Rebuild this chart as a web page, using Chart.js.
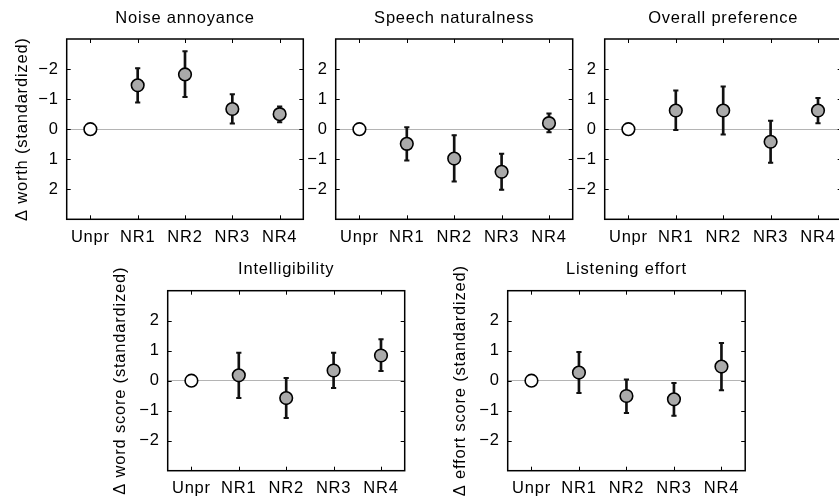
<!DOCTYPE html>
<html>
<head>
<meta charset="utf-8">
<script src="https://cdn.jsdelivr.net/npm/chart.js@4/dist/chart.umd.min.js"></script>
<style>
  html, body { margin: 0; padding: 0; background: #fff; width: 839px; height: 497px; overflow: hidden; position: relative; }
  canvas { position: absolute; }
</style>
</head>
<body>
<canvas id="c1"></canvas>
<canvas id="c2"></canvas>
<canvas id="c3"></canvas>
<canvas id="c4"></canvas>
<canvas id="c5"></canvas>
<script>
// ---------- data ----------
const categories = ['Unpr', 'NR1', 'NR2', 'NR3', 'NR4'];
const yTickValues = [-2, -1, 0, 1, 2];

const noiseMean = [0, -1.46, -1.82, -0.67, -0.50];
const noiseLow  = [null, -2.03, -2.59, -1.16, -0.75];
const noiseHigh = [null, -0.89, -1.07, -0.19, -0.23];

const speechMean = [0, -0.49, -0.98, -1.42, 0.20];
const speechLow  = [null, -1.04, -1.74, -2.02, -0.10];
const speechHigh = [null, 0.06, -0.20, -0.82, 0.52];

const prefMean = [0, 0.62, 0.62, -0.42, 0.62];
const prefLow  = [null, -0.03, -0.18, -1.12, 0.20];
const prefHigh = [null, 1.29, 1.42, 0.28, 1.04];

const intelMean = [0, 0.18, -0.58, 0.34, 0.84];
const intelLow  = [null, -0.58, -1.24, -0.24, 0.32];
const intelHigh = [null, 0.93, 0.09, 0.93, 1.38];

const effortMean = [0, 0.27, -0.51, -0.62, 0.47];
const effortLow  = [null, -0.41, -1.08, -1.17, -0.32];
const effortHigh = [null, 0.96, 0.04, -0.08, 1.26];

const markerFill = ['#ffffff', '#aaaaaa', '#aaaaaa', '#aaaaaa', '#aaaaaa'];

// ---------- styling ----------
const FONT = '"Liberation Sans", Arial, Helvetica, sans-serif';
const FS = 16.5;
Chart.defaults.color = '#000';
Chart.defaults.font.family = FONT;
Chart.defaults.font.size = FS;

const spacingPlugin = {
  id: 'spacing',
  beforeUpdate(chart) { chart.ctx.letterSpacing = '0.8px'; },
  beforeDraw(chart) { chart.ctx.letterSpacing = '0.8px'; }
};

const framePlugin = {
  id: 'frame',
  afterDraw(chart) {
    const ctx = chart.ctx;
    const { left, top, right, bottom } = chart.chartArea;
    const xs = chart.scales.x, ys = chart.scales.y;
    ctx.save();
    ctx.strokeStyle = '#000';
    ctx.lineWidth = 1;
    const tl = 4;
    ctx.beginPath();
    xs.ticks.forEach((t, i) => {
      const px = Math.round(xs.getPixelForTick(i)) + 0.5;
      ctx.moveTo(px, bottom); ctx.lineTo(px, bottom - tl);
      ctx.moveTo(px, top); ctx.lineTo(px, top + tl);
    });
    ys.ticks.forEach((t) => {
      const py = Math.round(ys.getPixelForValue(t.value)) + 0.5;
      ctx.moveTo(left, py); ctx.lineTo(left + tl, py);
      ctx.moveTo(right, py); ctx.lineTo(right - tl, py);
    });
    ctx.stroke();
    ctx.lineWidth = 1.5;
    ctx.strokeRect(left, top, right - left, bottom - top);
    ctx.restore();
  }
};

function fmt(v) { return v < 0 ? '\u2212' + Math.abs(v) : String(v); }

function makePanel(id, geo, title, yTitle, reverse, mean, low, high) {
  const cv = document.getElementById(id);
  cv.width = geo.w; cv.height = geo.h;
  cv.style.left = geo.left + 'px'; cv.style.top = geo.top + 'px';
  cv.style.width = geo.w + 'px'; cv.style.height = geo.h + 'px';
  const bars = low.map((l, i) => (l == null ? null : [l, high[i]]));
  new Chart(cv, {
    data: {
      labels: categories,
      datasets: [
        { type: 'line', data: mean, showLine: false, pointStyle: 'circle', pointRadius: 6.3,
          pointBorderWidth: 1.6, pointBorderColor: '#000', pointBackgroundColor: markerFill, order: 0 },
        { type: 'line', data: low, showLine: false, pointStyle: 'line', pointRadius: 2.6,
          pointBorderWidth: 2, pointBorderColor: '#111', order: 1 },
        { type: 'line', data: high, showLine: false, pointStyle: 'line', pointRadius: 2.6,
          pointBorderWidth: 2, pointBorderColor: '#111', order: 1 },
        { type: 'bar', data: bars, barThickness: 2, backgroundColor: '#111', borderWidth: 0, order: 2 }
      ]
    },
    options: {
      responsive: false,
      animation: false,
      events: [],
      devicePixelRatio: 1,
      layout: { autoPadding: false, padding: { left: 0, right: geo.padRight, top: 0, bottom: 0 } },
      plugins: {
        legend: { display: false },
        tooltip: { enabled: false },
        title: { display: true, text: title, color: '#000', fullSize: false,
                 font: { family: FONT, size: FS, weight: 'normal' },
                 padding: { top: geo.titleTop, bottom: geo.titleBottom } }
      },
      scales: {
        x: {
          type: 'category', offset: true,
          grid: { display: false, drawTicks: false }, border: { display: false },
          ticks: { padding: 8, color: '#000', maxRotation: 0, autoSkip: false,
                   font: { family: FONT, size: FS } },
          afterFit: (s) => { s.height = geo.xH; }
        },
        y: {
          type: 'linear', min: -3, max: 3, reverse: reverse,
          afterBuildTicks: (s) => { s.ticks = yTickValues.map(v => ({ value: v })); },
          grid: { drawTicks: false, lineWidth: 1,
                  color: (c) => (c.tick && c.tick.value === 0 ? '#b4b4b4' : 'rgba(0,0,0,0)') },
          border: { display: false },
          ticks: { padding: 8, color: '#000', font: { family: FONT, size: FS }, callback: (v) => fmt(v) },
          title: { display: !!yTitle, text: yTitle || '', color: '#000',
                   font: { family: FONT, size: FS }, padding: { top: geo.yTitlePad, bottom: 0 } },
          afterFit: (s) => { s.width = geo.yW; }
        }
      }
    },
    plugins: [spacingPlugin, framePlugin]
  });
}

const topRow = { top: 0, h: 250, xH: 30.7, titleTop: 8.6, titleBottom: 10.6, yW: 66.7, w: 310 };
const botRow = { top: 250, h: 247, xH: 26.3, titleTop: 9.8, titleBottom: 11.1, yW: 66.7, w: 310 };

makePanel('c1', Object.assign({}, topRow, { left: 0, padRight: 6.7, yTitlePad: 12.6 }),
  'Noise annoyance', '\u0394 worth (standardized)', true, noiseMean, noiseLow, noiseHigh);
makePanel('c2', Object.assign({}, topRow, { left: 269.3, padRight: 6.3, yTitlePad: 0 }),
  'Speech naturalness', null, false, speechMean, speechLow, speechHigh);
makePanel('c3', Object.assign({}, topRow, { left: 538.3, padRight: 6.3, yTitlePad: 0 }),
  'Overall preference', null, false, prefMean, prefLow, prefHigh);
makePanel('c4', Object.assign({}, botRow, { left: 100.6, padRight: 6.3, yTitlePad: 9.5 }),
  'Intelligibility', '\u0394 word score (standardized)', false, intelMean, intelLow, intelHigh);
makePanel('c5', Object.assign({}, botRow, { left: 440.6, padRight: 5.8, yTitlePad: 9.5 }),
  'Listening effort', '\u0394 effort score (standardized)', false, effortMean, effortLow, effortHigh);
</script>
</body>
</html>
